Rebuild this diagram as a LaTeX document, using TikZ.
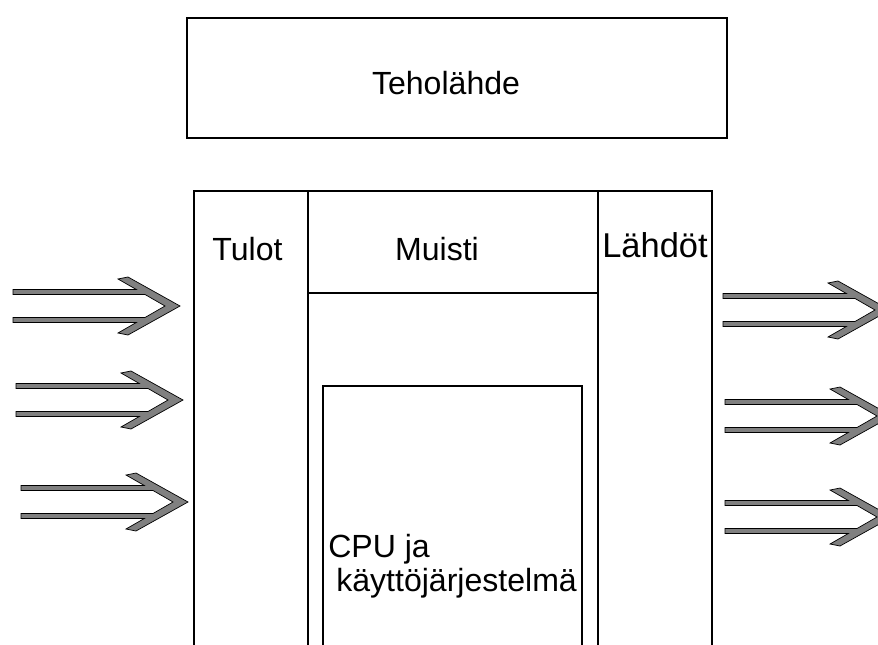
\documentclass[tikz,border=0pt]{standalone}
\usepackage{fontspec}
\setmainfont{Liberation Sans}
\tikzset{
  block/.style={draw, line width=0.8pt},
  label text/.style={anchor=base, inner sep=0pt, font=\fontsize{22.8}{26}\selectfont},
  io arrow/.style={draw=black, line width=0.5pt, fill=black!50, line join=miter},
}

\begin{document}
\begin{tikzpicture}[x=0.025cm, y=-0.025cm]
  \useasboundingbox (0,0) rectangle (878,644);
  \clip (0,0) rectangle (878,644);
  % power supply
  \coordinate (ps nw) at (187,18);  \coordinate (ps se) at (727,138);
  \draw[block] (ps nw) rectangle (ps se);
  \node[label text] (teho) at (446,95) {Teholähde};
  % controller body, runs off the bottom edge
  \coordinate (in l) at (194,191);  \coordinate (out r) at (712,191);
  \coordinate (mem l) at (308,191); \coordinate (mem r) at (598,191);
  \draw[block] (194,660) -- (in l) -- (out r) -- (712,660);
  \draw[block] (mem l) -- (308,660);
  \draw[block] (mem r) -- (598,660);
  \draw[block] (308,293) -- (598,293);
  \draw[block] (323,660) |- (582,386) -- (582,660);
  \node[label text] (tulot)  at (247.5,260) {Tulot};
  \node[label text] (muisti) at (437,260) {Muisti};
  \node[label text, font=\fontsize{24.5}{28}\selectfont] (lahdot) at (655,257) {Lähdöt};
  \node[label text, anchor=base west] (cpu) at (328,557) {CPU ja};
  \node[label text, anchor=base west] (os) at (336,591) {käyttöjärjestelmä};
  % inputs and outputs
  \foreach \tx/\cy in {180/306, 183/400, 188/502, 890/310, 892/416, 892/517}{
    \draw[io arrow, shift={(\tx,\cy)}]
      (-167,-16.5) -- (-43.7,-16.5) -- (-62,-27) -- (-52,-29) -- (0,0)
      -- (-52,29) -- (-62,27) -- (-43.7,16.5) -- (-167,16.5) -- (-167,11.5)
      -- (-35,11.5) -- (-15,0) -- (-35,-11.5) -- (-167,-11.5) -- cycle;
  }
\end{tikzpicture}
\end{document}
